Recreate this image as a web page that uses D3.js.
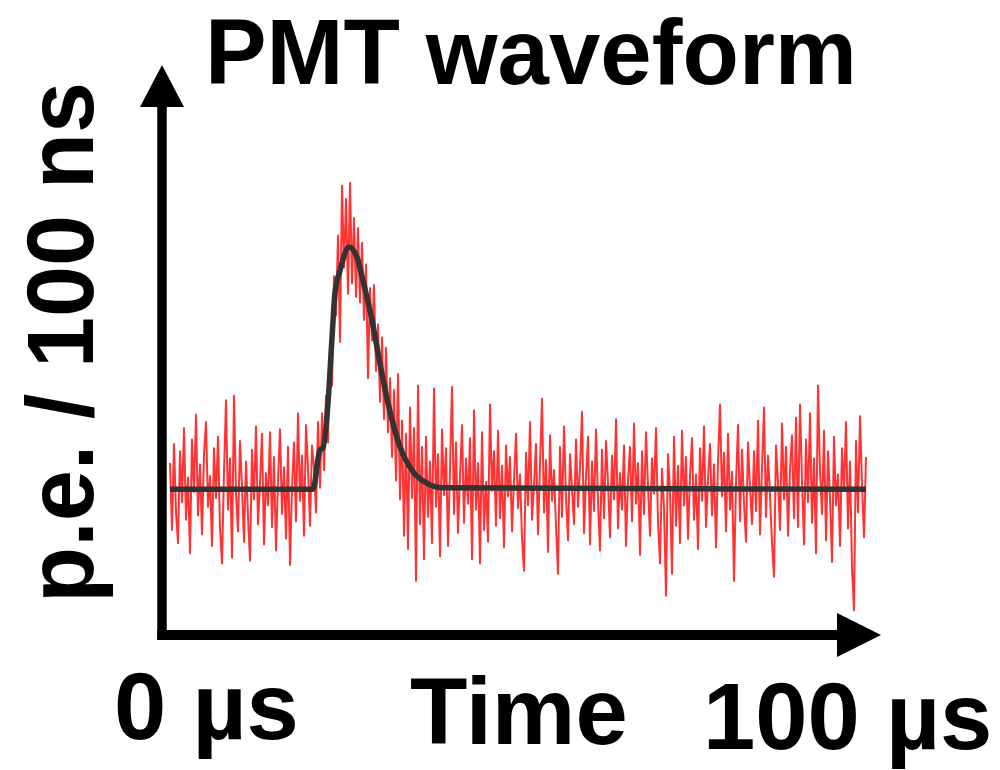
<!DOCTYPE html>
<html>
<head>
<meta charset="utf-8">
<script src="https://d3js.org/d3.v7.min.js"></script>
<style>
  body { margin: 0; background: #fff; }
  text { font-family: "Liberation Sans", Arial, Helvetica, sans-serif; font-weight: bold; fill: #000; }
</style>
</head>
<body>
<div id="chart"></div>
<script>
var signal = [
  11.8, 7.2, 13.1, 8.4, 6.3, 12.6, 9.1, 14.2, 7.9, 10.8,
  5.6, 13.4, 9.8, 15.1, 8.2, 11.7, 6.9, 12.4, 14.6, 8.8,
  10.9, 6.1, 12.8, 9.4, 13.6, 7.3, 4.9, 11.2, 16.1, 8.6,
  12.1, 5.3, 16.4, 9.7, 7.1, 13.3, 10.2, 6.4, 11.9, 8.1,
  5.1, 12.7, 9.3, 14.3, 7.6, 10.4, 13.8, 6.2, 11.1, 8.9,
  13.9, 7.4, 12.2, 5.8, 10.6, 14.1, 8.3, 11.5, 6.6, 12.9,
  4.8, 10.1, 13.2, 7.8, 15.2, 9.2, 12.3, 6.8, 14.4, 11.4,
  7.5, 13.0,
  // pulse
  11.5, 8.4, 14.6, 10.1, 15.2, 11.3, 16.4, 13.2, 19.8, 17.1,
  24.6, 21.9, 27.4, 20.1, 30.8, 25.2, 29.9, 23.4, 31.0, 24.1,
  28.6, 23.2, 27.9, 22.8, 26.9, 21.6, 25.4, 17.6, 23.8, 20.2,
  24.0, 18.1, 21.3, 16.0, 20.4, 14.8, 19.7, 13.9, 17.6, 12.2,
  16.8, 10.6, 17.9, 9.3, 14.7, 6.8, 13.8, 5.9, 15.6, 9.4,
  14.2, 3.7, 17.1, 7.6, 12.9, 5.2, 13.6, 8.1, 11.9, 6.3,
  16.9, 8.8, 12.4, 5.4, 14.1,
  // tail
  9.6, 12.8, 6.1, 11.4, 17.0, 8.3, 13.2, 7.0, 10.9, 14.4,
  7.7, 12.1, 9.0, 13.5, 5.2, 15.4, 8.6, 11.8, 4.9, 13.9,
  7.2, 10.5, 6.4, 15.8, 9.9, 12.6, 7.5, 14.0, 8.0, 11.6,
  6.0, 13.0, 9.5, 12.2, 7.1, 10.7, 13.8, 8.7, 11.0, 6.6,
  4.4, 12.5, 8.9, 14.6, 7.9, 10.3, 13.1, 6.9, 11.7, 16.2,
  8.4, 12.0, 5.7, 13.7, 9.2, 11.3, 7.4, 4.2, 12.9, 8.1,
  14.3, 9.4, 6.5, 12.4, 10.0, 7.6, 13.4, 8.8, 11.5, 15.3,
  7.0, 10.8, 13.6, 6.2, 11.9, 8.5, 14.1, 9.1, 5.8, 12.7,
  8.0, 13.3, 10.4, 6.7, 12.3, 9.3, 14.8, 7.3, 11.1, 8.6,
  13.0, 6.1, 10.6, 12.9, 7.8, 14.5, 9.0, 11.8, 5.5, 12.6,
  8.3, 13.9, 10.2, 6.8, 12.1, 9.7, 14.2, 7.7, 4.9, 11.4,
  8.7, 2.7, 12.4, 9.8, 4.2, 13.6, 7.5, 11.6, 6.3, 14.0,
  8.9, 12.2, 6.6, 10.9, 13.5, 7.9, 11.0, 5.9, 12.8, 9.2,
  14.3, 7.4, 10.7, 13.1, 8.2, 11.7, 6.0, 12.0, 15.8, 9.5,
  12.5, 7.1, 13.8, 8.6, 11.2, 3.7, 10.4, 14.4, 7.8, 12.7,
  9.0, 6.4, 13.2, 10.1, 7.6, 12.6, 8.5, 14.7, 6.9, 11.5,
  15.6, 8.1, 12.3, 9.6, 6.3, 4.0, 13.0, 10.5, 7.2, 14.5,
  9.3, 12.9, 6.8, 11.3, 13.7, 8.0, 14.9, 7.4, 15.8, 10.6,
  6.2, 13.4, 9.1, 15.2, 7.7, 12.1, 5.6, 17.1, 11.2, 8.3,
  14.0, 6.5, 12.6, 9.4, 5.0, 13.6, 8.9, 11.0, 6.1, 12.8,
  9.9, 14.6, 7.3, 11.9, 4.6, 1.7, 13.3, 8.4, 15.0, 10.3,
  6.7, 12.2
];

// fitted pulse shape (time in us, p.e. / 100 ns)
var fitTime  = [0, 20.55, 21.55, 21.98, 22.7, 23.28, 23.71, 24.43, 25.72, 26.87, 27.73, 29.02, 30.17, 31.32, 33.05, 34.91, 36.93, 39.22, 100];
var fitValue = [10, 10, 12.7, 12.8, 15.9, 20.4, 23.5, 25.0, 26.6, 25.9, 24.3, 21.6, 18.6, 15.9, 12.9, 11.2, 10.4, 10.1, 10];

var title = "PMT waveform";
var yLabel = "p.e. / 100 ns";
var xLabels = ["0 \u00b5s", "Time", "100 \u00b5s"];

var W = 1000, H = 770;
var svg = d3.select("#chart").append("svg")
  .attr("width", W)
  .attr("height", H);

var x = d3.scaleLinear().domain([0, 100]).range([170, 866]);
var y = d3.scaleLinear().domain([0, 38.4]).range([635, 75]);

var dt = 100 / (signal.length - 1);

// noisy trace
svg.append("path")
  .datum(signal)
  .attr("fill", "none")
  .attr("stroke", "#ff3333")
  .attr("stroke-width", 2)
  .attr("stroke-linejoin", "round")
  .attr("d", d3.line()
    .x(function(d, i) { return x(i * dt); })
    .y(function(d) { return y(d); }));

// fit
var fit = fitTime.map(function(t, i) { return [t, fitValue[i]]; });
svg.append("path")
  .datum(fit)
  .attr("fill", "none")
  .attr("stroke", "#333333")
  .attr("stroke-width", 5.5)
  .attr("stroke-linejoin", "round")
  .attr("d", d3.line()
    .curve(d3.curveMonotoneX)
    .x(function(d) { return x(d[0]); })
    .y(function(d) { return y(d[1]); }));

// axes as arrows
var ax = 162, ay = 635;
svg.append("line")
  .attr("x1", ax).attr("y1", ay + 5)
  .attr("x2", ax).attr("y2", 100)
  .attr("stroke", "#000").attr("stroke-width", 9.5);
svg.append("path")
  .attr("d", "M" + ax + ",65 L" + (ax - 22) + ",107 L" + (ax + 22) + ",107 Z")
  .attr("fill", "#000");
svg.append("line")
  .attr("x1", ax - 4.75).attr("y1", ay)
  .attr("x2", 845).attr("y2", ay)
  .attr("stroke", "#000").attr("stroke-width", 10);
svg.append("path")
  .attr("d", "M881," + ay + " L837," + (ay - 22) + " L837," + (ay + 22) + " Z")
  .attr("fill", "#000");

// texts
svg.append("text")
  .attr("x", 205).attr("y", 83.5)
  .attr("font-size", 92)
  .attr("textLength", 652)
  .attr("lengthAdjust", "spacingAndGlyphs")
  .text(title);

svg.append("text")
  .attr("transform", "translate(93,603) rotate(-90)")
  .attr("font-size", 94)
  .attr("textLength", 521)
  .attr("lengthAdjust", "spacingAndGlyphs")
  .text(yLabel);

var xLabelPos = [[114, 739], [410, 744], [703, 749]];
svg.selectAll("text.xl")
  .data(xLabels)
  .enter().append("text")
  .attr("class", "xl")
  .attr("x", function(d, i) { return xLabelPos[i][0]; })
  .attr("y", function(d, i) { return xLabelPos[i][1]; })
  .attr("font-size", 94)
  .text(function(d) { return d; });
</script>
</body>
</html>
